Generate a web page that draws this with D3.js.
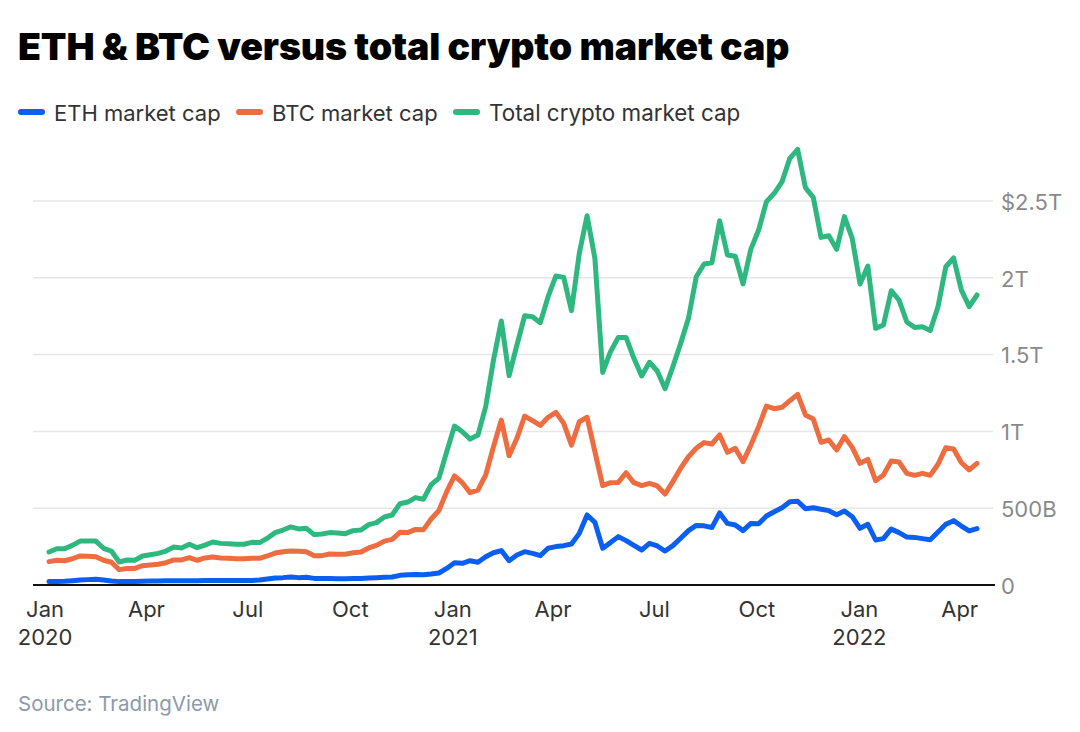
<!DOCTYPE html>
<html>
<head>
<meta charset="utf-8">
<script src="https://cdn.jsdelivr.net/npm/d3@7"></script>
<style>
  html, body { margin: 0; padding: 0; background: #fff; }
  svg { display: block; font-family: 'Inter', sans-serif; }
</style>
</head>
<body>
<svg id="chart"></svg>
<script>
'use strict';

// weekly closes, in billions of dollars, first one on 2020-01-05
var firstWeek = new Date(2020, 0, 5);

var ethValues = [22,22,24,28,33,35,37,33,26,22,22,22,24,26,26,28,28,28,28,28,30,30,30,30,30,30,30,33,39,46,48,52,48,50,43,43,43,41,41,43,43,46,48,50,52,63,67,69,67,71,78,108,145,141,158,148,184,210,224,158,195,217,206,191,239,250,256,267,336,456,408,239,276,315,289,258,228,271,254,221,256,304,354,388,385,374,469,401,391,354,401,399,449,477,503,542,545,497,503,493,484,458,482,445,369,395,293,302,365,341,312,310,302,295,345,395,419,384,352,367];

var btcValues = [152,161,158,171,189,187,184,161,148,100,108,108,126,130,135,145,163,163,178,161,176,182,176,174,171,171,174,174,189,208,217,221,219,217,191,191,202,200,200,210,215,241,258,286,297,343,341,362,359,430,485,608,710,666,601,618,716,901,1074,842,955,1100,1070,1039,1092,1124,1052,911,1063,1092,868,647,666,668,731,666,647,662,645,592,673,760,835,890,927,918,977,864,890,803,911,1031,1165,1148,1157,1200,1241,1107,1081,929,944,879,966,896,792,818,679,716,807,801,727,714,727,714,786,894,885,796,749,792];

var totalValues = [215,236,236,258,286,286,286,239,221,150,163,161,189,197,206,221,247,241,265,243,260,280,271,269,265,265,278,276,304,341,358,378,365,369,328,332,341,339,334,354,358,393,406,443,456,529,540,569,558,653,696,868,1035,998,950,976,1161,1465,1719,1363,1562,1753,1747,1708,1877,2012,2003,1786,2159,2404,2127,1384,1519,1612,1612,1476,1361,1450,1393,1278,1421,1573,1736,2007,2090,2098,2371,2148,2140,1960,2187,2311,2496,2550,2626,2778,2836,2587,2524,2263,2274,2185,2398,2257,1960,2077,1671,1693,1916,1855,1712,1677,1682,1656,1812,2072,2129,1920,1812,1888];

var seriesNames = ['ETH market cap', 'BTC market cap', 'Total crypto market cap'];
var seriesColors = ['#0b5ff0', '#ee6d40', '#2fb780'];

var yTicks = [0, 500, 1000, 1500, 2000, 2500];
var yTickLabels = ['0', '500B', '1T', '1.5T', '2T', '$2.5T'];

var xTicks = [[2020,0],[2020,3],[2020,6],[2020,9],[2021,0],[2021,3],[2021,6],[2021,9],[2022,0],[2022,3]];
var xMonthLabels = ['Jan','Apr','Jul','Oct','Jan','Apr','Jul','Oct','Jan','Apr'];
var xYearLabels = ['2020','','','','2021','','','','2022',''];

// chart size
var W = 1080, H = 732;
var margin = { top: 140, right: 103, bottom: 147, left: 49 };
var width = W - margin.left - margin.right;
var height = H - margin.top - margin.bottom;

var root = d3.select('#chart').attr('width', W).attr('height', H);

// title
root.append('text')
  .attr('x', 18).attr('y', 60)
  .attr('font-size', 37.5).attr('font-weight', 900).attr('fill', '#000')
  .attr('letter-spacing', -0.15)
  .text('ETH & BTC versus total crypto market cap');

// legend
var legendX = [18, 236, 453];
var legendSizes = [22, 22, 22.4];
var legend = root.selectAll('g.legend').data(seriesNames).enter().append('g')
  .attr('class', 'legend')
  .attr('transform', function(d, i){ return 'translate(' + legendX[i] + ',0)'; });
legend.append('line')
  .attr('x1', 3).attr('x2', 24).attr('y1', 112).attr('y2', 112)
  .attr('stroke', function(d, i){ return seriesColors[i]; })
  .attr('stroke-width', 6).attr('stroke-linecap', 'round');
legend.append('text')
  .attr('x', 36).attr('y', 121)
  .attr('font-size', function(d, i){ return legendSizes[i]; })
  .attr('font-weight', 400).attr('fill', '#333')
  .text(function(d){ return d; });

var svg = root.append('g')
  .attr('transform', 'translate(' + margin.left + ',' + margin.top + ')');

// scales
var dates = ethValues.map(function(d, i){ return d3.timeDay.offset(firstWeek, i * 7); });
var x = d3.scaleTime().domain([dates[0], dates[dates.length - 1]]).range([0, width]);
var y = d3.scaleLinear().domain([0, 2500]).range([height, height - 384]);

// gridlines + y labels
var yAxis = svg.append('g')
  .attr('transform', 'translate(' + (width + 16) + ',0)')
  .call(d3.axisRight(y).tickValues(yTicks).tickSize(0).tickPadding(8)
    .tickFormat(function(d, i){ return yTickLabels[i]; }));
yAxis.select('.domain').remove();
yAxis.selectAll('text').attr('font-size', 22).attr('font-family', 'Inter, sans-serif')
  .attr('font-weight', 400).attr('fill', '#8a8a8a').attr('dy', '0.38em').attr('x', 8);

svg.append('g').selectAll('line').data(yTicks.slice(1)).enter().append('line')
  .attr('x1', -16).attr('x2', width + 16)
  .attr('y1', function(d){ return y(d); }).attr('y2', function(d){ return y(d); })
  .attr('stroke', '#e6e6e6').attr('stroke-width', 1.5);

// x axis
var xAxis = svg.append('g')
  .attr('transform', 'translate(0,' + height + ')')
  .call(d3.axisBottom(x)
    .tickValues(xTicks.map(function(d){ return new Date(d[0], d[1], 1); }))
    .tickSize(0).tickPadding(16)
    .tickFormat(function(d, i){ return xMonthLabels[i]; }));
xAxis.select('.domain').remove();
xAxis.selectAll('text').attr('font-size', 22).attr('font-family', 'Inter, sans-serif')
  .attr('font-weight', 400).attr('fill', '#333');
xAxis.selectAll('.tick').append('text')
  .attr('y', 60).attr('text-anchor', 'middle')
  .attr('font-size', 22).attr('font-family', 'Inter, sans-serif')
  .attr('font-weight', 400).attr('fill', '#333')
  .text(function(d, i){ return xYearLabels[i]; });

svg.append('line')
  .attr('x1', -16).attr('x2', width + 18)
  .attr('y1', height).attr('y2', height)
  .attr('stroke', '#111').attr('stroke-width', 2);

// lines
var line = d3.line()
  .x(function(d, i){ return x(dates[i]); })
  .y(function(d){ return y(d); });

[ethValues, btcValues, totalValues].forEach(function(vals, i){
  svg.append('path').datum(vals)
    .attr('fill', 'none')
    .attr('stroke', seriesColors[i])
    .attr('stroke-width', 5)
    .attr('stroke-linejoin', 'round')
    .attr('stroke-linecap', 'round')
    .attr('d', line);
});

// source
root.append('text')
  .attr('x', 18).attr('y', 711)
  .attr('font-size', 20.5).attr('fill', '#8c9aa8')
  .text('Source: TradingView');
</script>
</body>
</html>
